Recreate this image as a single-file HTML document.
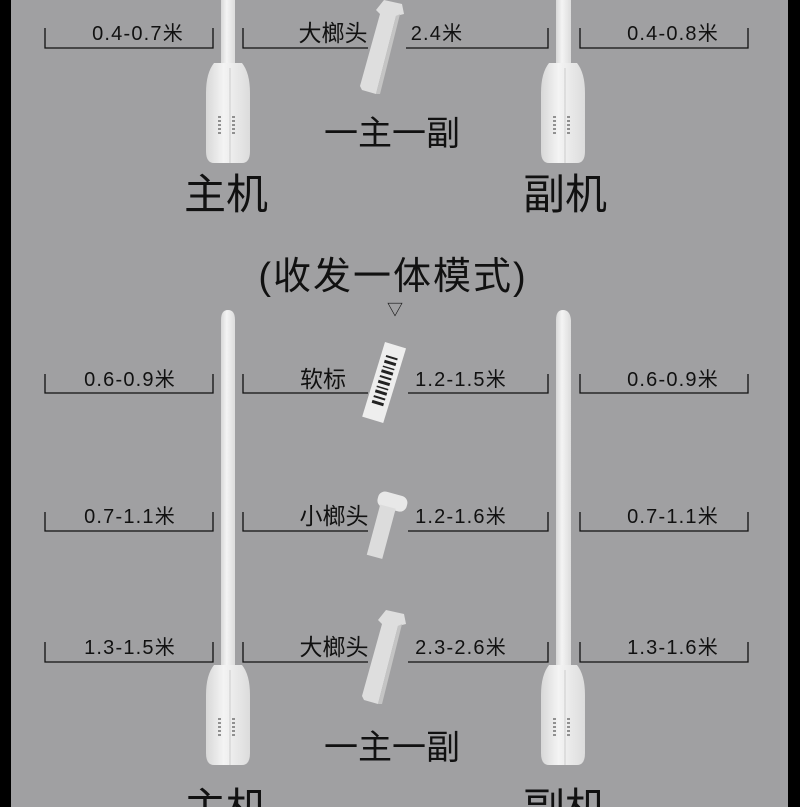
<!DOCTYPE html>
<html><head><meta charset="utf-8"><style>
html,body{margin:0;padding:0;background:#a0a0a2;}
svg{display:block}
text{font-family:"Liberation Sans","Noto Sans CJK SC",sans-serif;fill:#111;}
.n{font-size:20px;letter-spacing:1.2px}
.c{font-size:23px}
</style></head><body>
<svg width="800" height="807" viewBox="0 0 800 807" xmlns="http://www.w3.org/2000/svg">
<defs>
<linearGradient id="pg" x1="0" x2="1"><stop offset="0" stop-color="#d8d8d8"/><stop offset="0.4" stop-color="#f4f4f4"/><stop offset="1" stop-color="#dcdcdc"/></linearGradient>
<g id="base">
<path d="M-14 -100 L14 -100 Q22 -90 22 -70 L22 -12 Q22 0 14 0 L-14 0 Q-22 0 -22 -12 L-22 -70 Q-22 -90 -14 -100 Z" fill="url(#pg)"/>
<line x1="2" y1="-95" x2="2" y2="0" stroke="#ccc" stroke-width="1"/>
<g stroke="#333" stroke-width="1">
<line x1="-10" y1="-46" x2="-7" y2="-46"/><line x1="-10" y1="-42" x2="-7" y2="-42"/><line x1="-10" y1="-38" x2="-7" y2="-38"/><line x1="-10" y1="-34" x2="-7" y2="-34"/><line x1="-10" y1="-30" x2="-7" y2="-30"/>
<line x1="4" y1="-46" x2="7" y2="-46"/><line x1="4" y1="-42" x2="7" y2="-42"/><line x1="4" y1="-38" x2="7" y2="-38"/><line x1="4" y1="-34" x2="7" y2="-34"/><line x1="4" y1="-30" x2="7" y2="-30"/>
</g></g>
<g id="big"><path d="M26 -2 L44 2 L46 12 L38 14 L18 92 L4 88 L2 84 L22 12 L18 8 Z" fill="#dedede"/><path d="M38 14 L18 92 L22 92 L42 12Z" fill="#c4c4c4"/></g>
</defs>
<rect x="0" y="0" width="11" height="807" fill="#000"/>
<rect x="788" y="0" width="12" height="807" fill="#000"/>

<rect x="221" y="0" width="14" height="70" fill="url(#pg)"/>
<use href="#base" x="228" y="163"/>
<rect x="556" y="0" width="15" height="70" fill="url(#pg)"/>
<use href="#base" x="563" y="163"/>
<path d="M221 320 Q221 310 228 310 Q235 310 235 320 L235 690 L221 690Z" fill="url(#pg)"/>
<use href="#base" x="228" y="765"/>
<path d="M556 320 Q556 310 563 310 Q570 310 571 320 L571 690 L556 690Z" fill="url(#pg)"/>
<use href="#base" x="563" y="765"/>

<g fill="none" stroke="#111" stroke-width="1.3">
<path d="M45 28 V48 H213 V28"/><path d="M243 28 V48 H368"/><path d="M406 48 H548 V28"/><path d="M580 28 V48 H748 V28"/>
<path d="M45 374 V393 H213 V374"/><path d="M243 374 V393 H368"/><path d="M408 393 H548 V374"/><path d="M580 374 V393 H748 V374"/>
<path d="M45 512 V531 H213 V512"/><path d="M243 512 V531 H368"/><path d="M408 531 H548 V512"/><path d="M580 512 V531 H748 V512"/>
<path d="M45 642 V662 H213 V642"/><path d="M243 642 V662 H368"/><path d="M408 662 H548 V642"/><path d="M580 642 V662 H748 V642"/>
</g>

<use href="#big" x="358" y="2"/>
<use href="#big" x="360" y="612"/>
<g transform="translate(385,342) rotate(17)"><rect x="0" y="0" width="22" height="78" fill="#eee"/>
<g fill="#222"><rect x="5" y="12" width="12" height="2"/><rect x="5" y="17" width="12" height="3"/><rect x="5" y="23" width="12" height="1.5"/><rect x="5" y="27" width="12" height="3"/><rect x="5" y="33" width="12" height="2"/><rect x="5" y="38" width="12" height="3"/><rect x="5" y="44" width="12" height="1.5"/><rect x="5" y="48" width="12" height="3"/><rect x="5" y="54" width="12" height="2"/><rect x="5" y="59" width="12" height="3"/></g></g>
<g transform="translate(380,490) rotate(15)"><rect x="0" y="0" width="30" height="16" rx="7" fill="#e8e8e8"/><rect x="4" y="14" width="16" height="52" fill="#dcdcdc"/></g>

<g text-anchor="middle">
<text class="n" x="138" y="40">0.4-0.7米</text><text class="c" x="333" y="41">大榔头</text><text class="n" x="437" y="40">2.4米</text><text class="n" x="673" y="40">0.4-0.8米</text>
<text class="n" x="130" y="386">0.6-0.9米</text><text class="c" x="323" y="387">软标</text><text class="n" x="461" y="386">1.2-1.5米</text><text class="n" x="673" y="386">0.6-0.9米</text>
<text class="n" x="130" y="523">0.7-1.1米</text><text class="c" x="334" y="524">小榔头</text><text class="n" x="461" y="523">1.2-1.6米</text><text class="n" x="673" y="523">0.7-1.1米</text>
<text class="n" x="130" y="654">1.3-1.5米</text><text class="c" x="334" y="655">大榔头</text><text class="n" x="461" y="654">2.3-2.6米</text><text class="n" x="673" y="654">1.3-1.6米</text>
</g>
<g text-anchor="middle">
<text x="392" y="145" font-size="34">一主一副</text>
<text x="226" y="209" font-size="42">主机</text>
<text x="565" y="209" font-size="42">副机</text>
<text x="393" y="289" font-size="38" letter-spacing="2">(收发一体模式)</text>
<text x="395" y="315" font-size="16">▽</text>
<text x="392" y="759" font-size="34">一主一副</text>
<text x="226" y="823" font-size="42">主机</text>
<text x="565" y="823" font-size="42">副机</text>
</g>
</svg>
</body></html>
